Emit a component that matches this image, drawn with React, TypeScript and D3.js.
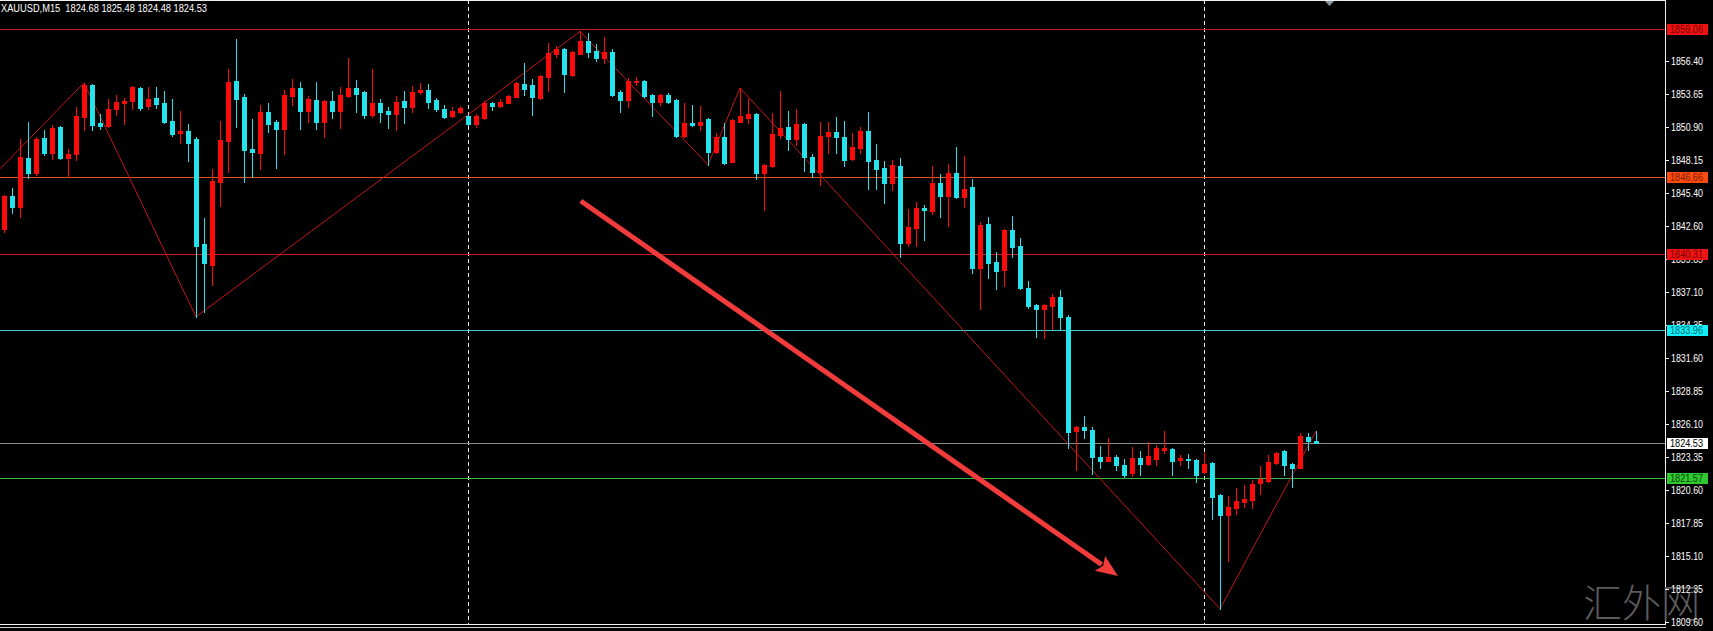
import React from 'react';
import * as d3 from 'd3';

const symbol = 'XAUUSD,M15';
const watermark = '汇外网';

const opens = [
  1842.38, 1845.13, 1844.22, 1848.30, 1847.05, 1849.97, 1848.72, 1850.89, 1848.30, 1848.64,
  1851.73, 1854.39, 1851.22, 1850.97, 1852.39, 1852.89, 1853.06, 1854.14, 1852.64, 1853.31,
  1852.89, 1851.39, 1850.39, 1850.56, 1849.89, 1841.13, 1839.37, 1846.30, 1849.72, 1854.73,
  1853.39, 1849.05, 1848.72, 1852.14, 1851.30, 1850.72, 1853.48, 1854.14, 1852.22, 1853.14,
  1851.30, 1853.06, 1852.22, 1853.48, 1854.14, 1853.81, 1851.89, 1852.89, 1852.22, 1851.98,
  1853.06, 1852.56, 1853.81, 1853.98, 1853.14, 1852.39, 1851.81, 1852.14, 1851.81, 1851.14,
  1851.64, 1852.89, 1852.64, 1852.89, 1853.39, 1854.48, 1854.39, 1853.31, 1855.06, 1856.98,
  1857.40, 1855.23, 1856.98, 1858.07, 1857.23, 1856.65, 1857.15, 1853.81, 1853.14, 1854.64,
  1854.73, 1853.56, 1852.97, 1853.56, 1853.14, 1850.14, 1851.22, 1851.05, 1851.56, 1848.80,
  1850.06, 1847.97, 1851.30, 1851.64, 1851.98, 1847.05, 1847.63, 1850.22, 1850.89, 1849.89,
  1851.14, 1848.39, 1847.13, 1850.14, 1850.47, 1850.06, 1848.22, 1849.14, 1850.56, 1848.13,
  1847.47, 1846.21, 1847.63, 1841.21, 1842.46, 1844.13, 1843.88, 1846.21, 1845.13, 1847.05,
  1845.05, 1845.88, 1839.12, 1842.79, 1839.62, 1838.95, 1842.29, 1840.96, 1837.45, 1836.03,
  1835.70, 1835.95, 1836.70, 1835.03, 1825.51, 1825.85, 1825.60, 1823.34, 1823.01, 1823.34,
  1822.68, 1822.01, 1823.26, 1822.76, 1823.18, 1823.93, 1824.01, 1823.09, 1823.18, 1823.09,
  1822.09, 1822.85, 1820.17, 1818.50, 1819.09, 1819.59, 1819.76, 1821.17, 1821.34, 1822.85,
  1823.85, 1822.76, 1822.43, 1825.01, 1824.68,
];

const highs = [
  1845.21, 1845.80, 1849.89, 1851.30, 1850.06, 1850.64, 1851.05, 1850.97, 1849.05, 1852.56,
  1854.56, 1854.45, 1851.98, 1853.22, 1853.56, 1853.31, 1854.30, 1854.23, 1854.23, 1854.23,
  1853.90, 1853.22, 1852.22, 1851.14, 1850.06, 1843.30, 1847.38, 1851.39, 1855.73, 1858.23,
  1853.64, 1851.56, 1852.72, 1852.89, 1851.47, 1853.98, 1854.89, 1854.64, 1853.48, 1854.64,
  1853.14, 1853.90, 1854.23, 1856.65, 1854.81, 1853.90, 1855.73, 1853.22, 1852.56, 1853.48,
  1853.90, 1854.31, 1854.56, 1854.48, 1853.31, 1852.72, 1852.56, 1852.64, 1851.98, 1851.98,
  1853.06, 1852.97, 1853.22, 1853.56, 1854.64, 1856.23, 1854.89, 1855.23, 1857.90, 1857.65,
  1857.48, 1857.23, 1858.85, 1858.75, 1857.82, 1858.40, 1857.40, 1853.98, 1854.98, 1855.06,
  1854.78, 1853.60, 1853.64, 1853.73, 1853.22, 1852.89, 1852.72, 1852.64, 1851.60, 1850.39,
  1851.22, 1851.56, 1854.14, 1853.22, 1852.02, 1847.75, 1852.06, 1853.90, 1852.22, 1852.39,
  1851.18, 1848.64, 1851.30, 1851.30, 1851.73, 1851.39, 1850.39, 1850.89, 1852.14, 1849.47,
  1848.05, 1848.13, 1848.30, 1844.04, 1844.63, 1844.38, 1847.63, 1846.97, 1847.80, 1849.22,
  1848.47, 1846.55, 1842.96, 1843.38, 1840.46, 1842.38, 1843.46, 1841.63, 1838.03, 1836.12,
  1836.12, 1836.95, 1837.28, 1835.20, 1825.90, 1826.77, 1825.85, 1824.26, 1824.93, 1823.51,
  1823.18, 1824.18, 1823.85, 1824.60, 1824.35, 1825.51, 1824.05, 1823.51, 1823.60, 1823.18,
  1823.68, 1822.89, 1820.25, 1820.09, 1820.76, 1821.01, 1821.42, 1822.59, 1823.51, 1823.76,
  1823.93, 1822.85, 1825.35, 1825.35, 1825.48,
];

const lows = [
  1842.12, 1843.71, 1843.38, 1846.63, 1846.88, 1848.55, 1848.22, 1848.22, 1846.72, 1848.13,
  1850.64, 1850.64, 1850.72, 1850.89, 1851.89, 1851.14, 1852.39, 1852.31, 1852.39, 1852.47,
  1851.22, 1850.14, 1849.55, 1848.05, 1835.03, 1835.45, 1837.70, 1844.30, 1847.13, 1850.89,
  1846.30, 1846.72, 1847.38, 1850.47, 1847.47, 1848.64, 1852.72, 1850.72, 1851.30, 1850.72,
  1850.06, 1851.64, 1850.80, 1853.39, 1852.14, 1851.64, 1851.73, 1851.30, 1850.80, 1850.64,
  1851.22, 1852.14, 1853.64, 1852.47, 1852.22, 1851.64, 1851.73, 1852.06, 1851.05, 1850.89,
  1851.56, 1852.31, 1852.56, 1852.85, 1853.35, 1853.56, 1851.89, 1853.22, 1853.90, 1856.73,
  1853.81, 1855.15, 1856.95, 1856.73, 1856.40, 1856.23, 1853.48, 1852.14, 1852.56, 1854.39,
  1853.39, 1851.81, 1852.72, 1852.89, 1850.06, 1850.06, 1850.97, 1850.64, 1847.72, 1848.72,
  1847.80, 1847.95, 1851.28, 1851.22, 1846.55, 1843.96, 1847.55, 1849.97, 1848.97, 1849.39,
  1847.22, 1846.72, 1846.05, 1848.72, 1848.72, 1847.63, 1848.13, 1848.72, 1845.72, 1845.72,
  1844.55, 1845.63, 1840.04, 1840.96, 1840.96, 1841.46, 1843.63, 1843.38, 1842.63, 1844.97,
  1844.21, 1838.70, 1835.70, 1838.28, 1837.37, 1837.62, 1840.04, 1837.37, 1835.79, 1833.36,
  1833.28, 1834.03, 1834.03, 1824.10, 1822.26, 1824.93, 1821.93, 1822.43, 1822.98, 1822.26,
  1821.68, 1821.76, 1821.84, 1822.68, 1822.68, 1823.68, 1821.84, 1822.68, 1822.43, 1821.26,
  1822.01, 1818.17, 1810.66, 1814.66, 1818.59, 1819.17, 1819.09, 1820.26, 1821.26, 1822.76,
  1821.84, 1820.84, 1822.40, 1823.93, 1824.48,
];

const closes = [
  1845.13, 1844.22, 1848.39, 1847.05, 1849.89, 1848.72, 1850.80, 1848.30, 1848.64, 1851.81,
  1854.39, 1851.05, 1850.97, 1852.39, 1852.97, 1853.06, 1854.23, 1852.47, 1853.22, 1852.81,
  1851.30, 1850.31, 1850.56, 1849.55, 1840.96, 1839.54, 1846.38, 1849.80, 1854.64, 1853.22,
  1848.97, 1848.80, 1852.14, 1851.14, 1850.72, 1853.56, 1854.14, 1852.22, 1853.22, 1851.30,
  1853.06, 1852.22, 1853.56, 1854.14, 1853.64, 1851.89, 1852.89, 1852.14, 1851.98, 1852.97,
  1852.56, 1853.81, 1853.98, 1852.97, 1852.39, 1851.73, 1852.22, 1852.47, 1851.14, 1851.81,
  1852.89, 1852.64, 1852.97, 1853.48, 1854.56, 1854.06, 1853.39, 1855.15, 1857.07, 1857.40,
  1855.31, 1857.15, 1858.07, 1857.15, 1856.65, 1857.15, 1853.56, 1853.14, 1854.73, 1854.73,
  1853.48, 1852.97, 1853.56, 1852.97, 1850.14, 1851.22, 1851.05, 1851.30, 1848.80, 1850.06,
  1847.88, 1851.47, 1851.81, 1851.98, 1847.05, 1847.70, 1850.31, 1850.80, 1849.89, 1851.14,
  1848.39, 1847.13, 1850.14, 1850.47, 1850.06, 1848.13, 1849.22, 1850.56, 1848.05, 1847.38,
  1846.21, 1847.72, 1841.21, 1842.54, 1844.13, 1843.96, 1846.21, 1845.13, 1847.05, 1845.05,
  1845.71, 1839.12, 1842.71, 1839.54, 1838.87, 1842.29, 1840.87, 1837.45, 1835.95, 1835.70,
  1836.03, 1836.70, 1835.03, 1825.43, 1825.85, 1825.60, 1823.34, 1823.01, 1823.34, 1822.68,
  1821.84, 1823.26, 1822.76, 1823.43, 1824.10, 1824.10, 1823.01, 1823.26, 1823.09, 1821.84,
  1822.76, 1820.00, 1818.50, 1819.17, 1819.67, 1819.84, 1821.09, 1821.51, 1822.93, 1823.68,
  1822.68, 1822.43, 1825.10, 1824.68, 1824.53,
];

const priceTicks = [
  1856.40, 1853.65, 1850.90, 1848.15, 1845.40, 1842.60, 1839.85, 1837.10, 1834.35,
  1831.60, 1828.85, 1826.10, 1823.35, 1820.60, 1817.85, 1815.10, 1812.35, 1809.60,
];

const levelPrices = [1859.06, 1846.66, 1840.31, 1833.96, 1824.53, 1821.57];

const zigzagIdx = [-0.5, 10, 24, 72, 88, 92, 152, 164];
const zigzagPrice = [1847.38, 1854.56, 1835.03, 1858.85, 1847.72, 1854.14, 1810.66, 1825.48];

const separatorIdx = [58, 150];

const arrowIdx = [72.1, 139.25];
const arrowPrice = [1844.7, 1813.4];

// ---- styles ----
const W = 1713;
const H = 631;
const AXIS_X = 1665;
const BULL = '#ff0a0a';
const BEAR = '#26e2ea';
const levelLine = ['#c81c1c', '#e2521e', '#d01a1a', '#46c8cf', '#8c8c8c', '#3cbc3c'];
const levelBg = ['#ec1212', '#ff4a10', '#ee1414', '#10eef6', '#ffffff', '#30c830'];
const levelText = ['#7a0000', '#7a2000', '#7a0000', '#006a70', '#000000', '#0a4a0a'];
const FONT = '"Liberation Sans", Arial, sans-serif';

export default function App() {
  const x = d3.scaleLinear().domain([0, 164]).range([4, 1316]);
  const y = d3.scaleLinear().domain([1809.6, 1856.4]).range([621.5, 60.8]);
  const py = (p: number) => Math.round(y(p));

  const n = opens.length;
  const last = n - 1;
  const header = `${symbol}  ${opens[last].toFixed(2)} ${highs[last].toFixed(2)} ${lows[last].toFixed(2)} ${closes[last].toFixed(2)}`;

  const zz = d3.line<number>()
    .x((_, i) => x(zigzagIdx[i]))
    .y((_, i) => y(zigzagPrice[i]));

  // arrow
  const sx = x(arrowIdx[0]);
  const sy = y(arrowPrice[0]);
  const tx = x(arrowIdx[1]);
  const ty = y(arrowPrice[1]);
  const len = Math.hypot(tx - sx, ty - sy);
  const dx = (tx - sx) / len;
  const dy = (ty - sy) / len;
  const headLen = 22;
  const headW = 9;
  const bx = tx - dx * headLen;
  const by = ty - dy * headLen;
  const head = [
    [tx, ty],
    [bx - dy * headW, by + dx * headW],
    [bx + dx * 4, by + dy * 4],
    [bx + dy * headW, by - dx * headW],
  ];

  return (
    <svg
      width={W}
      height={H}
      style={{ position: 'absolute', left: 0, top: 0, display: 'block', background: '#000' }}
    >
      <rect x={0} y={0} width={W} height={H} fill="#000" />

      {/* separators */}
      {separatorIdx.map((s, i) => (
        <line key={'sep' + i} x1={Math.round(x(s)) + 0.5} x2={Math.round(x(s)) + 0.5} y1={0} y2={624}
          stroke="#e8e8e8" strokeWidth={1} strokeDasharray="4,3" />
      ))}

      {/* horizontal levels */}
      {levelPrices.map((p, i) => (
        <line key={'lv' + i} x1={0} x2={AXIS_X} y1={py(p) + 0.5} y2={py(p) + 0.5}
          stroke={levelLine[i]} strokeWidth={1} />
      ))}

      {/* zigzag */}
      <path d={zz(zigzagPrice) || ''} fill="none" stroke="#c41414" strokeWidth={1} />

      {/* candles */}
      <g shapeRendering="crispEdges">
        {d3.range(n).map((i) => {
          const o = opens[i], c = closes[i], h = highs[i], l = lows[i];
          const col = c >= o ? BULL : BEAR;
          const cx = Math.round(x(i));
          const top = py(Math.max(o, c));
          const bot = py(Math.min(o, c));
          return (
            <g key={'c' + i}>
              <line x1={cx + 0.5} x2={cx + 0.5} y1={py(h)} y2={py(l) + 1} stroke={col} strokeWidth={1} />
              <rect x={cx - 2} y={top} width={5} height={Math.max(1, bot - top + 1)} fill={col} />
            </g>
          );
        })}
      </g>

      {/* arrow */}
      <line x1={sx} y1={sy} x2={bx + dx * 2} y2={by + dy * 2} stroke="#f23c3c" strokeWidth={5} />
      <polygon points={head.map((p) => p.join(',')).join(' ')} fill="#f23c3c" />

      {/* frame */}
      <line x1={0} x2={AXIS_X} y1={0.5} y2={0.5} stroke="#f0f0f0" />
      <line x1={AXIS_X + 0.5} x2={AXIS_X + 0.5} y1={0} y2={624} stroke="#f0f0f0" />
      <line x1={0} x2={AXIS_X + 1} y1={624.5} y2={624.5} stroke="#f0f0f0" />
      <line x1={0} x2={AXIS_X + 1} y1={627.5} y2={627.5} stroke="#cfcfcf" />
      <polygon points="1325,1 1334,1 1329.5,6" fill="#8d9ba0" />

      {/* watermark */}
      <text x={1583} y={617} fontFamily='"Noto Sans CJK SC", sans-serif' fontSize={39}
        fill="#5c5c5c" fontWeight={300}>{watermark}</text>

      {/* price ticks */}
      {priceTicks.map((p, i) => (
        <g key={'t' + i}>
          <line x1={AXIS_X} x2={AXIS_X + 4} y1={py(p) + 0.5} y2={py(p) + 0.5} stroke="#f0f0f0" />
          <text x={1671} y={py(p) + 4} fill="#ffffff" fontFamily={FONT} fontSize={10}
            textLength={32} lengthAdjust="spacingAndGlyphs">{p.toFixed(2)}</text>
        </g>
      ))}

      {/* level labels */}
      {levelPrices.map((p, i) => (
        <g key={'ll' + i}>
          <rect x={1667} y={py(p) - 5} width={41} height={11} fill={levelBg[i]} />
          <text x={1670} y={py(p) + 4} fill={levelText[i]} fontFamily={FONT} fontSize={10}
            textLength={33} lengthAdjust="spacingAndGlyphs">{p.toFixed(2)}</text>
        </g>
      ))}

      {/* header */}
      <text x={1} y={12} fill="#ffffff" fontFamily={FONT} fontSize={10.5}
        textLength={206} lengthAdjust="spacingAndGlyphs" xmlSpace="preserve">{header}</text>
    </svg>
  );
}
